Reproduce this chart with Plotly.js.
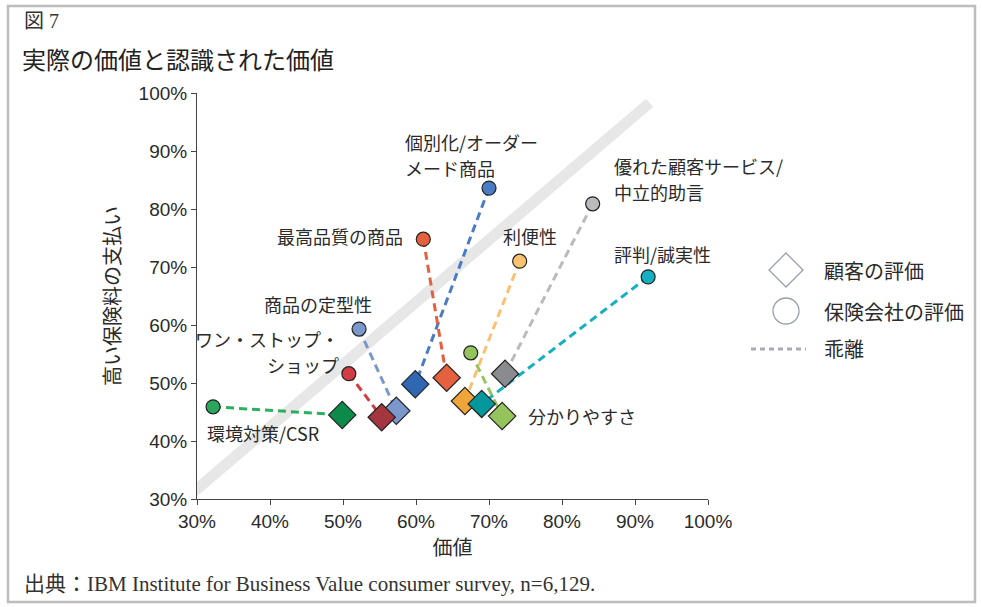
<!DOCTYPE html>
<html>
<head>
<meta charset="utf-8">
<script src="https://cdn.plot.ly/plotly-3.0.1.min.js"></script>
<style>html,body{margin:0;padding:0;background:#fff;}#chart{width:982px;height:607px;}</style>
</head>
<body>
<div id="chart"></div>
<script>
// ---- data ----
const categories = ["商品の定型性", "ワン・ストップ・ショップ", "環境対策/CSR", "個別化/オーダーメード商品", "最高品質の商品", "優れた顧客サービス/中立的助言", "利便性", "評判/誠実性", "分かりやすさ"];
const insurerX  = [52.2, 50.8, 32.2, 70.0, 61.0, 84.2, 74.2, 91.8, 67.5];
const insurerY  = [59.3, 51.6, 45.9, 83.6, 74.8, 80.9, 71.0, 68.3, 55.2];
const customerX = [57.3, 55.3, 49.9, 59.9, 64.2, 72.2, 66.7, 69.0, 71.8];
const customerY = [45.2, 44.1, 44.5, 49.8, 50.9, 51.6, 46.9, 46.4, 44.3];
const labelLines = [["商品の定型性"], ["ワン・ストップ・", "ショップ"], ["環境対策/CSR"], ["個別化/オーダー", "メード商品"], ["最高品質の商品"], ["優れた顧客サービス/", "中立的助言"], ["利便性"], ["評判/誠実性"], ["分かりやすさ"]];
const diagonalX = [28.5, 92.0];
const diagonalY = [30.1, 98.3];
const xTickVals = [30, 40, 50, 60, 70, 80, 90, 100];
const yTickVals = [30, 40, 50, 60, 70, 80, 90, 100];
const legendLabels = ["顧客の評価", "保険会社の評価", "乖離"];

// ---- styles ----
const diamondColors = ["#7b98cc", "#a3363e", "#0b8a4a", "#2f67b3", "#e5603f", "#8a8b8e", "#f0a53b", "#04979c", "#95c35c"];
const circleColors  = ["#7b98cc", "#d23c43", "#2aa65d", "#4a7cc3", "#e5603f", "#b9bbbf", "#f8c272", "#14b0c1", "#95c35c"];
const lineColors    = ["#7b98cc", "#d23c43", "#2bb05e", "#4a7cc3", "#e5603f", "#b9bbbf", "#f8c272", "#14b0c1", "#95c35c"];
const labelPlacement = [
  {x: 38.9, y: 63.6, anchor: "left"},
  {x: 49.7, y: 55.3, anchor: "right"},
  {x: 31.1, y: 41.3, anchor: "left"},
  {x: 58.2, y: 89.3, anchor: "left"},
  {x: 58.5, y: 75.4, anchor: "right"},
  {x: 86.8, y: 85.2, anchor: "left"},
  {x: 71.6, y: 75.4, anchor: "left"},
  {x: 86.8, y: 72.3, anchor: "left"},
  {x: 75.1, y: 44.3, anchor: "left"}
];

const SANS = "Liberation Sans, Arial, Noto Sans CJK JP, sans-serif";
const JP = "Noto Sans CJK JP, Liberation Sans, sans-serif";
const SERIF = "Liberation Serif, Times New Roman, Noto Sans CJK JP, serif";

// plot area pixels
const L = 197, R = 708, T = 93, B = 499, W = 982, H = 607;
const px = v => (v - L) / (R - L);
const py = v => (B - v) / (B - T);

const traces = [];
traces.push({x: diagonalX, y: diagonalY, mode: "lines", line: {color: "#e7e7e8", width: 11}, hoverinfo: "skip", showlegend: false});
for (let i = 0; i < categories.length; i++) {
  traces.push({x: [insurerX[i], customerX[i]], y: [insurerY[i], customerY[i]], mode: "lines",
    line: {color: lineColors[i], width: 3, dash: "8px,5px"}, showlegend: false, hoverinfo: "skip"});
}
traces.push({x: insurerX, y: insurerY, text: categories, mode: "markers", name: "保険会社の評価",
  marker: {symbol: "circle", size: 14, color: circleColors, line: {color: "#222", width: 1.2}}, showlegend: false});
traces.push({x: customerX, y: customerY, text: categories, mode: "markers", name: "顧客の評価",
  marker: {symbol: "diamond", size: 21, color: diamondColors, line: {color: "#222", width: 1.2}}, showlegend: false});

const annotations = [];
labelLines.forEach((lines, i) => {
  const p = labelPlacement[i];
  const n = lines.length;
  lines.forEach((t, j) => {
    annotations.push({x: p.x, y: p.y, xref: "x", yref: "y", text: t, showarrow: false,
      xanchor: p.anchor, yanchor: "middle", yshift: ((n - 1) / 2 - j) * 26,
      font: {family: JP, size: 18, color: "#2a2a2a"}});
  });
});
// figure number and footer
annotations.push({xref: "paper", yref: "paper", x: px(22), y: py(21), xanchor: "left", yanchor: "middle",
  text: "図 7", showarrow: false, font: {family: SERIF, size: 20, color: "#333"}});
annotations.push({xref: "paper", yref: "paper", x: px(22), y: py(584), xanchor: "left", yanchor: "middle",
  text: "出典：IBM Institute for Business Value consumer survey, n=6,129.", showarrow: false,
  font: {family: SERIF, size: 21, color: "#333"}});
// legend texts
const legY = [270, 311, 348];
legendLabels.forEach((t, i) => {
  annotations.push({xref: "paper", yref: "paper", x: px(822), y: py(legY[i]), xanchor: "left", yanchor: "middle",
    text: t, showarrow: false, font: {family: JP, size: 20, color: "#2a2a2a"}});
});

const dx = 17, dy = 17, cx = 786;
const shapes = [
  // frame
  {type: "rect", xref: "paper", yref: "paper", x0: px(8), x1: px(975), y0: py(602), y1: py(6),
   line: {color: "#bdbdbd", width: 2.5}, layer: "below"},
  // legend diamond
  {type: "path", xref: "paper", yref: "paper",
   path: `M ${px(cx)} ${py(270 - dy)} L ${px(cx + dx)} ${py(270)} L ${px(cx)} ${py(270 + dy)} L ${px(cx - dx)} ${py(270)} Z`,
   line: {color: "#98a0ad", width: 1.3}, fillcolor: "rgba(0,0,0,0)"},
  // legend circle
  {type: "circle", xref: "paper", yref: "paper", x0: px(cx - 13), x1: px(cx + 13), y0: py(311 + 13), y1: py(311 - 13),
   line: {color: "#98a0ad", width: 1.3}},
  // legend dashed line
  {type: "line", xref: "paper", yref: "paper", x0: px(751), x1: px(806), y0: py(349), y1: py(349),
   line: {color: "#a7abb3", width: 3, dash: "5px,4px"}}
];

const layout = {
  width: W, height: H,
  margin: {l: L, r: W - R, t: T, b: H - B, pad: 0},
  paper_bgcolor: "#fff", plot_bgcolor: "#fff",
  showlegend: false,
  title: {text: "実際の価値と認識された価値", xref: "container", yref: "container", x: 22 / W, xanchor: "left",
          y: 1 - 61 / H, yanchor: "middle", font: {family: JP, size: 24, color: "#222"}},
  xaxis: {range: [30, 100], tickvals: xTickVals, ticktext: xTickVals.map(v => v + "%"),
          showgrid: false, zeroline: false, showline: true, linecolor: "#444", linewidth: 1,
          ticks: "outside", ticklen: 5, tickcolor: "#444", tickfont: {family: SANS, size: 19, color: "#2a2a2a"},
          title: {text: "価値", font: {family: JP, size: 20, color: "#2a2a2a"}, standoff: 8}},
  yaxis: {range: [30, 100], tickvals: yTickVals, ticktext: yTickVals.map(v => v + "%"),
          showgrid: false, zeroline: false, showline: true, linecolor: "#444", linewidth: 1,
          ticks: "outside", ticklen: 5, tickcolor: "#444", tickfont: {family: SANS, size: 19, color: "#2a2a2a"},
          title: {text: "高い保険料の支払い", font: {family: JP, size: 20, color: "#2a2a2a"}, standoff: 12}},
  annotations: annotations,
  shapes: shapes
};

Plotly.newPlot("chart", traces, layout, {displayModeBar: false, responsive: false});
</script>
</body>
</html>
